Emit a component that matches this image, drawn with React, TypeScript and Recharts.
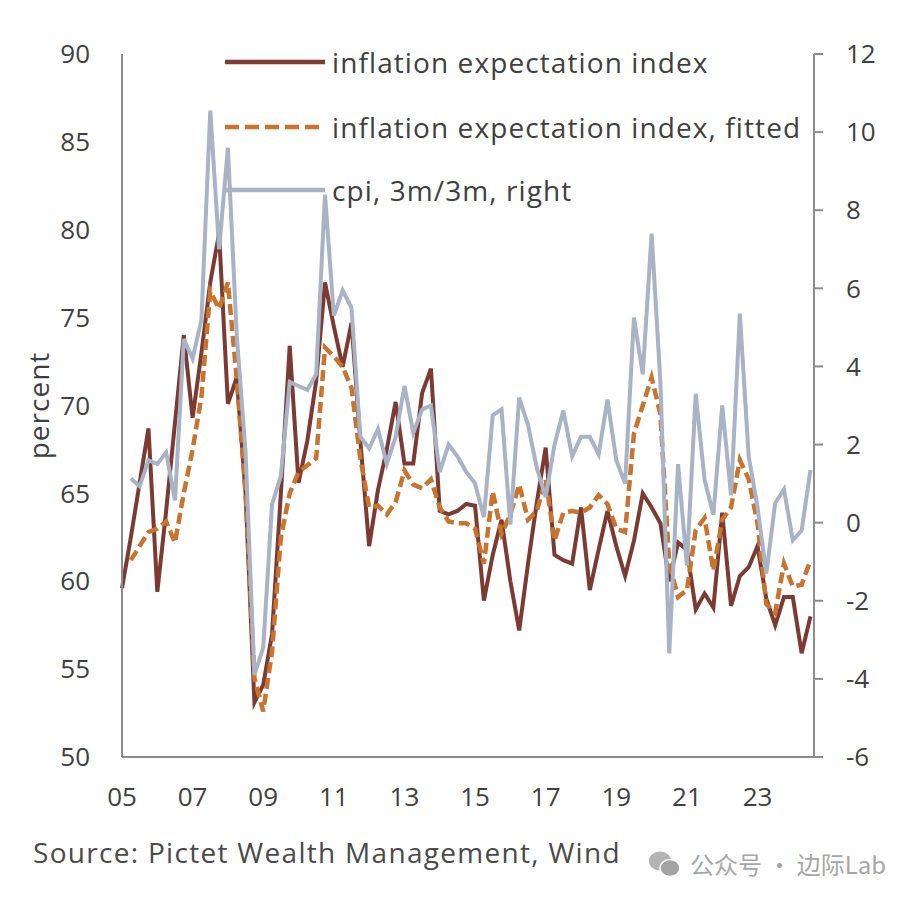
import { LineChart, Line, XAxis, YAxis } from "recharts"

const FONT = "'Open Sans', Lato, sans-serif"
const TEXT = "#404040"
const AXIS = "#8c8c8c"
const BROWN = "#7b3b33"
const ORANGE = "#c8732e"
const GREY = "#a8b3c6"

// quarterly, 2005Q1 .. 2024Q3
const quarters = Array.from({ length: 79 }, (_, i) => 2005 + i / 4)

const expectation = [
  59.6, 62.5, 65.6, 68.7, 59.4, 64, 69, 74, 69.3, 73,
  77, 79.8, 70.1, 71.6, 65, 53.1, 54.1, 57, 65, 73.4,
  65.6, 68, 71.4, 77, 74.5, 72.2, 74.7, 68, 62, 65.2,
  67.5, 70.2, 66.7, 66.7, 70.7, 72.1, 64, 63.8, 64, 64.4,
  64.3, 58.9, 61.5, 63.5, 60, 57.2, 61, 64.5, 67.6, 61.5,
  61.2, 61, 64.2, 59.5, 61.8, 64, 62, 60.3, 62.3, 65,
  64.2, 63.3, 60, 62.2, 61.8, 58.4, 59.3, 58.5, 63.9, 58.6,
  60.3, 60.8, 62, 59, 57.5, 59.1, 59.1, 55.9, 58,
]

const fitted = [
  null, 61.2, 62, 62.8, 63, 63.4, 62.2, 65, 67.5, 70.5,
  76.5, 75.5, 77, 71.5, 65, 54.5, 52.6, 56, 62.5, 65,
  66.2, 66.6, 67, 73.3, 72.8, 72.2, 71, 67, 64.2, 64.3,
  63.8, 64.5, 66.3, 65.5, 65.3, 65.8, 64.2, 63.4, 63.3, 63.3,
  63, 61, 65.1, 62.7, 63.8, 65.5, 63.5, 64, 65.8, 62.3,
  63.9, 64, 63.9, 64.2, 64.9, 64.4, 63, 62.8, 68.4, 70,
  71.6, 69.5, 61, 59.1, 59.5, 62.9, 63.6, 60.6, 63.5, 64.2,
  66.9, 65.8, 63.3, 58.7, 58.2, 61, 59.7, 59.8, 61.2,
]

const cpi = [
  null, 1.13, 0.93, 1.6, 1.5, 1.8, 0.57, 4.7, 4.2, 5.2,
  10.55, 7.0, 9.6, 4.8, 1.8, -3.9, -3.2, 0.47, 1.2, 3.6,
  3.5, 3.4, 3.8, 8.4, 5.3, 5.95, 5.5, 2.2, 1.9, 2.4,
  1.5, 2.2, 3.5, 2.3, 2.9, 3.0, 1.3, 2.0, 1.7, 1.3,
  1.0, 0.14, 2.75, 2.9, -0.05, 3.2, 2.5, 1.4, 0.65, 2.0,
  2.87, 1.7, 2.2, 2.2, 1.75, 3.15, 1.6, 1.0, 5.25, 3.8,
  7.4, 3.6, -3.35, 1.5, -1.1, 3.3, 1.1, 0.2, 3.0, 0.7,
  5.35, 1.7, 0.4, -1.3, 0.5, 0.85, -0.45, -0.2, 1.35,
]

const yearTicks = [2005, 2007, 2009, 2011, 2013, 2015, 2017, 2019, 2021, 2023]
const leftTicks = [50, 55, 60, 65, 70, 75, 80, 85, 90]
const rightTicks = [-6, -4, -2, 0, 2, 4, 6, 8, 10, 12]

const data = quarters.map((t, i) => ({
  t,
  expectation: expectation[i],
  fitted: fitted[i],
  cpi: cpi[i],
}))

const legendItems = [
  { label: "inflation expectation index", color: BROWN, dash: undefined },
  { label: "inflation expectation index, fitted", color: ORANGE, dash: "14 6" },
  { label: "cpi, 3m/3m, right", color: GREY, dash: undefined },
]

function PercentLabel(props: any) {
  const vb = props.viewBox || { x: 0, y: 54, width: 122, height: 703 }
  const cx = vb.x + 38
  const cy = vb.y + vb.height / 2
  return (
    <text
      x={cx}
      y={cy}
      transform={`rotate(-90 ${cx} ${cy})`}
      textAnchor="middle"
      dominantBaseline="central"
      fill={TEXT}
      fontSize={28}
      letterSpacing={1}
      fontFamily={FONT}
    >
      percent
    </text>
  )
}

export default function App() {
  const tickStyle = { fill: TEXT, fontSize: 26, fontFamily: FONT }
  return (
    <div style={{ position: "absolute", left: 0, top: 0, width: 912, height: 900, background: "#fff", fontFamily: FONT }}>
      <LineChart width={912} height={900} data={data} margin={{ top: 54, right: 0, bottom: 0, left: 0 }}>
        <XAxis
          type="number"
          dataKey="t"
          domain={[2005, 2024.6]}
          ticks={yearTicks}
          interval={0}
          tickFormatter={(v) => String(v).slice(2)}
          axisLine={{ stroke: AXIS, strokeWidth: 2 }}
          tickLine={false}
          tickSize={0}
          tickMargin={31}
          height={143}
          tick={tickStyle}
        />
        <YAxis
          yAxisId="left"
          domain={[50, 90]}
          ticks={leftTicks}
          interval={0}
          width={122}
          axisLine={{ stroke: AXIS, strokeWidth: 2 }}
          tickLine={false}
          tickSize={0}
          tickMargin={32}
          tick={tickStyle}
          label={<PercentLabel />}
        />
        <YAxis
          yAxisId="right"
          orientation="right"
          domain={[-6, 12]}
          ticks={rightTicks}
          interval={0}
          width={98}
          axisLine={{ stroke: AXIS, strokeWidth: 2 }}
          tickLine={{ stroke: AXIS, strokeWidth: 2 }}
          tickSize={9}
          tickMargin={23}
          tick={tickStyle}
        />
        <Line
          yAxisId="left"
          type="linear"
          dataKey="expectation"
          stroke={BROWN}
          strokeWidth={4}
          dot={false}
          isAnimationActive={false}
        />
        <Line
          yAxisId="left"
          type="linear"
          dataKey="fitted"
          stroke={ORANGE}
          strokeWidth={4.5}
          strokeDasharray="11 5"
          dot={false}
          isAnimationActive={false}
        />
        <Line
          yAxisId="right"
          type="linear"
          dataKey="cpi"
          stroke={GREY}
          strokeWidth={4}
          dot={false}
          isAnimationActive={false}
        />
      </LineChart>

      <svg width={660} height={200} style={{ position: "absolute", left: 220, top: 30, pointerEvents: "none" }}>
        {legendItems.map((item, i) => {
          const y = [32, 97, 160][i]
          return (
            <g key={item.label}>
              <line x1={5} x2={105} y1={y} y2={y} stroke={item.color} strokeWidth={4.5} strokeDasharray={item.dash} />
              <text
                x={112}
                y={y}
                dominantBaseline="central"
                fill={TEXT}
                fontSize={28}
                letterSpacing={1.1}
                fontFamily={FONT}
              >
                {item.label}
              </text>
            </g>
          )
        })}
      </svg>

      <div
        style={{
          position: "absolute",
          left: 33,
          top: 833,
          fontSize: 28,
          letterSpacing: 1.3,
          color: "#4a4a4a",
          whiteSpace: "nowrap",
        }}
      >
        Source: Pictet Wealth Management, Wind
      </div>

      <div style={{ position: "absolute", left: 648, top: 846, display: "flex", alignItems: "center", gap: 8, color: "#a6a6a6" }}>
        <svg width={34} height={30}>
          <ellipse cx={12} cy={12} rx={11} ry={9.5} fill="#b3b3b3" />
          <ellipse cx={22} cy={19} rx={10} ry={8.5} fill="#a3a3a3" stroke="#fff" strokeWidth={1.5} />
        </svg>
        <span style={{ fontFamily: "'Noto Sans CJK SC', sans-serif", fontSize: 24 }}>公众号 · 边际Lab</span>
      </div>
    </div>
  )
}
